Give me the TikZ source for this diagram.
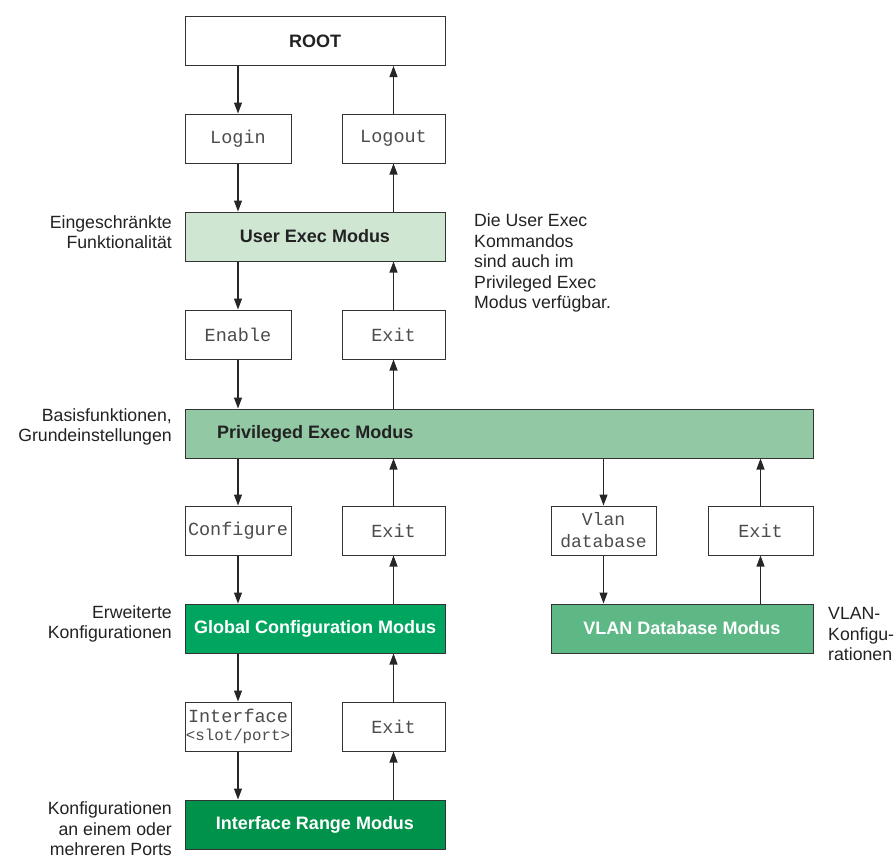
\documentclass[tikz,border=0pt]{standalone}
\usepackage{fontspec}
\setmainfont{Liberation Sans}
\newfontfamily\cmdfont{Liberation Mono}
\usetikzlibrary{arrows.meta}
\definecolor{ucol}{HTML}{CFE6D2}
\definecolor{pcol}{HTML}{93C8A4}
\definecolor{gcol}{HTML}{00A65F}
\definecolor{vcol}{HTML}{5DB886}
\definecolor{icol}{HTML}{00924B}
\definecolor{bordc}{HTML}{333333}
\definecolor{txtc}{HTML}{222222}
\tikzset{
  box/.style={draw=bordc, line width=1pt, rectangle, inner sep=0pt, align=center},
  cmd/.style={box, fill=white, minimum height=49pt, text=black!70, font=\cmdfont\fontsize{18.5}{20}\selectfont},
  mode/.style={box, minimum height=49pt, font=\bfseries\fontsize{18}{20}\selectfont},
  note/.style={text=txtc, inner sep=0pt, font=\fontsize{17.7}{20.5}\selectfont},
  arr/.style={line width=1.1pt, -{Triangle[length=11pt,width=8pt]}, black!85}
}
\begin{document}
\begin{tikzpicture}[x=1pt,y=-1pt]
\useasboundingbox (0,0) rectangle (896,857);
% mode boxes
\node[mode, fill=white, minimum width=260pt, text=txtc] (root) at (315,41) {ROOT};
\node[mode, fill=ucol, minimum width=260pt, text=txtc] (user) at (315,236.5) {User Exec Modus};
\node[box, fill=pcol, minimum width=628pt, minimum height=49pt] (priv) at (499,433.5) {};
\node[font=\bfseries\fontsize{18}{20}\selectfont, text=txtc, anchor=west, inner sep=0pt] (privt) at (217,433.5) {Privileged Exec Modus};
\node[mode, fill=gcol, minimum width=260pt, text=white] (glob) at (315,628.5) {Global Configuration Modus};
\node[mode, fill=vcol, minimum width=262pt, text=white] (vlan) at (682,628.5) {VLAN Database Modus};
\node[mode, fill=icol, minimum width=260pt, text=white] (irange) at (315,824.5) {Interface Range Modus};
% command boxes
\node[cmd, minimum width=106pt] (login) at (238,138.5) {Login};
\node[cmd, minimum width=103pt] (logout) at (393.5,138.5) {Logout};
\node[cmd, minimum width=106pt] (enable) at (238,334.5) {Enable};
\node[cmd, minimum width=103pt] (exit1) at (393.5,334.5) {Exit};
\node[cmd, minimum width=106pt] (config) at (238,530.5) {Configure};
\node[cmd, minimum width=103pt] (exit2) at (393.5,530.5) {Exit};
\node[cmd, minimum width=105pt, font=\cmdfont\fontsize{18}{22}\selectfont] (vdb) at (603.5,530.5) {Vlan\\database};
\node[cmd, minimum width=105pt] (exit3) at (760.5,530.5) {Exit};
\node[cmd, minimum width=106pt, font=\cmdfont\fontsize{18.5}{19}\selectfont] (iface) at (238,726.5) {Interface\\[-1pt]{\fontsize{15.8}{16}\selectfont<slot/port>}};
\node[cmd, minimum width=103pt] (exit4) at (393.5,726.5) {Exit};
% arrows down
\draw[arr] (login.north |- root.south) -- (login.north);
\draw[arr] (login.south) -- (login.south |- user.north);
\draw[arr] (enable.north |- user.south) -- (enable.north);
\draw[arr] (enable.south) -- (enable.south |- priv.north);
\draw[arr] (config.north |- priv.south) -- (config.north);
\draw[arr] (config.south) -- (config.south |- glob.north);
\draw[arr] (vdb.north |- priv.south) -- (vdb.north);
\draw[arr] (vdb.south) -- (vdb.south |- vlan.north);
\draw[arr] (iface.north |- glob.south) -- (iface.north);
\draw[arr] (iface.south) -- (iface.south |- irange.north);
% arrows up
\draw[arr] (logout.north) -- (logout.north |- root.south);
\draw[arr] (logout.south |- user.north) -- (logout.south);
\draw[arr] (exit1.north) -- (exit1.north |- user.south);
\draw[arr] (exit1.south |- priv.north) -- (exit1.south);
\draw[arr] (exit2.north) -- (exit2.north |- priv.south);
\draw[arr] (exit2.south |- glob.north) -- (exit2.south);
\draw[arr] (exit3.north) -- (exit3.north |- priv.south);
\draw[arr] (exit3.south |- vlan.north) -- (exit3.south);
\draw[arr] (exit4.north) -- (exit4.north |- glob.south);
\draw[arr] (exit4.south |- irange.north) -- (exit4.south);
% notes
\node[note, align=right, anchor=east] (n1) at (172,232) {Eingeschränkte\\Funktionalität};
\node[note, align=right, anchor=east] (n2) at (172,427) {Basisfunktionen,\\Grundeinstellungen};
\node[note, align=right, anchor=east] (n3) at (172,624) {Erweiterte\\Konfigurationen};
\node[note, align=right, anchor=east] (n4) at (172,829) {Konfigurationen\\an einem oder\\mehreren Ports};
\node[note, align=left, anchor=west] (n5) at (474,263) {Die User Exec\\Kommandos\\sind auch im\\Privileged Exec\\Modus verfügbar.};
\node[note, align=left, anchor=west] (n6) at (828,634) {VLAN-\\Konfigu-\\rationen};
\end{tikzpicture}
\end{document}
